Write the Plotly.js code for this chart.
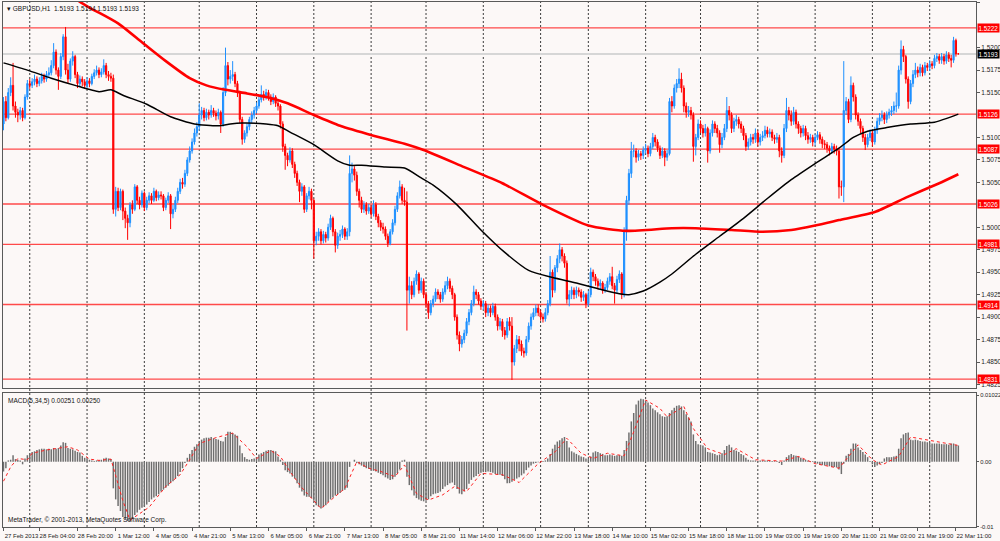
<!DOCTYPE html>
<html>
<head>
<meta charset="utf-8">
<script src="https://cdn.plot.ly/plotly-3.0.1.min.js"></script>
<style>
html,body{margin:0;padding:0;background:#fcf8f7;overflow:hidden;}
#chart{width:1000px;height:541px;}
</style>
</head>
<body>
<div id="chart"></div>
<script>
// ---------- DATA (prices in pips: 15193 = 1.5193) ----------
const symbolTitle = 'GBPUSD,H1';
const firstOpenPips = 15115;
const closePips = [
15140,15122,15150,15158,15135,15128,15125,15130,15122,15145,
15160,15158,15162,15165,15160,15163,15168,15165,15170,15172,
15180,15195,15175,15168,15190,15212,15175,15165,15185,15190,
15170,15160,15165,15162,15158,15163,15160,15168,15172,15175,
15170,15173,15180,15170,15168,15166,15020,15040,15022,15040,
15018,15010,15005,15025,15020,15045,15030,15025,15038,15022,
15030,15035,15030,15040,15033,15036,15035,15022,15030,15035,
15015,15020,15030,15040,15050,15048,15060,15075,15085,15095,
15105,15112,15125,15130,15122,15128,15125,15130,15127,15124,
15128,15115,15150,15180,15165,15168,15170,15160,15150,15120,
15098,15105,15112,15120,15125,15130,15135,15142,15148,15145,
15150,15145,15140,15145,15138,15135,15115,15090,15080,15075,
15085,15070,15060,15050,15040,15045,15020,15035,15040,15030,
14985,14990,14995,14985,14992,14988,15000,15010,14995,14980,
14990,14992,14998,14990,14995,15060,15065,15058,15040,15030,
15020,15025,15018,15022,15015,15025,15012,15005,15000,14998,
14990,14982,14995,15005,15020,15035,15045,15030,15028,14930,
14935,14925,14940,14948,14930,14940,14925,14915,14905,14915,
14920,14928,14925,14920,14928,14935,14940,14932,14925,14900,
14880,14870,14875,14882,14895,14905,14915,14928,14925,14918,
14912,14915,14905,14910,14905,14912,14900,14890,14895,14885,
14880,14895,14890,14850,14865,14875,14870,14862,14860,14875,
14890,14900,14905,14910,14905,14900,14898,14905,14915,14950,
14930,14955,14965,14975,14968,14960,14920,14925,14930,14925,
14930,14928,14922,14925,14915,14925,14950,14945,14940,14935,
14938,14930,14933,14940,14945,14935,14930,14942,14948,14925,
14995,15030,15060,15085,15085,15078,15082,15080,15086,15088,
15082,15090,15100,15095,15088,15080,15085,15078,15082,15140,
15135,15155,15160,15165,15155,15135,15128,15130,15125,15090,
15100,15115,15110,15105,15110,15085,15105,15115,15110,15105,
15092,15100,15110,15130,15125,15110,15118,15120,15115,15110,
15102,15090,15095,15100,15098,15105,15095,15100,15102,15108,
15104,15106,15100,15098,15100,15085,15080,15110,15130,15125,
15118,15128,15115,15110,15105,15110,15102,15098,15100,15095,
15100,15103,15098,15093,15092,15088,15085,15090,15087,15085,
15045,15045,15130,15140,15120,15158,15145,15125,15118,15110,
15100,15092,15100,15105,15095,15108,15118,15122,15125,15120,
15125,15128,15130,15135,15135,15175,15198,15190,15165,15140,
15160,15170,15175,15172,15178,15172,15180,15178,15182,15180,
15188,15190,15186,15190,15185,15192,15188,15186,15208,15193,
15193];
const highPips = [
15145,15146,15155,15167,15183,15140,15132,15134,15133,15148,
15164,15165,15166,15170,15168,15167,15172,15171,15174,15178,
15186,15205,15198,15178,15194,15215,15223,15182,15188,15196,
15192,15173,15169,15168,15165,15167,15166,15171,15176,15180,
15178,15177,15187,15183,15174,15172,15170,15045,15044,15043,
15042,15022,15014,15028,15030,15048,15047,15034,15041,15040,
15034,15039,15038,15044,15042,15040,15040,15037,15033,15039,
15037,15025,15034,15044,15054,15055,15064,15078,15090,15099,
15110,15117,15138,15134,15133,15132,15131,15136,15133,15130,
15132,15130,15156,15200,15184,15175,15185,15173,15163,15152,
15123,15108,15116,15123,15129,15134,15139,15146,15158,15152,
15154,15153,15148,15149,15147,15141,15137,15118,15093,15083,
15089,15088,15073,15063,15053,15049,15047,15038,15045,15043,
15032,14995,14999,14998,14996,14995,15004,15014,15012,14998,
14994,14997,15002,15000,14999,15080,15072,15068,15062,15043,
15034,15029,15028,15026,15025,15030,15028,15015,15008,15005,
15001,14993,14998,15009,15024,15039,15052,15048,15044,15040,
14945,14940,14944,14952,14950,14944,14943,14928,14918,14919,
14924,14932,14931,14928,14932,14940,14945,14943,14935,14927,
14903,14884,14879,14886,14899,14909,14919,14935,14931,14928,
14921,14919,14918,14914,14913,14916,14915,14903,14899,14898,
14889,14899,14900,14900,14869,14880,14879,14874,14866,14879,
14894,14904,14910,14914,14914,14908,14904,14910,14919,14968,
14953,14958,14969,14982,14978,14971,14963,14930,14934,14933,
14934,14933,14931,14929,14927,14929,14955,14953,14948,14943,
14942,14940,14937,14944,14949,14956,14938,14946,14952,14950,
15000,15035,15065,15095,15092,15088,15086,15085,15090,15093,
15091,15094,15105,15103,15098,15091,15089,15088,15086,15144,
15146,15159,15165,15177,15172,15158,15139,15135,15134,15128,
15104,15120,15119,15114,15115,15112,15109,15119,15118,15114,
15108,15105,15115,15145,15135,15128,15122,15125,15123,15118,
15113,15105,15099,15104,15104,15110,15108,15104,15107,15113,
15112,15110,15109,15103,15105,15103,15089,15115,15144,15134,
15130,15134,15131,15118,15113,15114,15113,15106,15104,15103,
15104,15107,15106,15101,15097,15095,15091,15094,15093,15091,
15088,15052,15185,15145,15143,15168,15161,15148,15128,15121,
15113,15104,15104,15109,15108,15112,15122,15127,15130,15128,
15129,15132,15135,15140,15150,15180,15208,15202,15192,15168,
15164,15175,15183,15179,15182,15181,15184,15183,15186,15185,
15192,15194,15193,15194,15193,15196,15195,15192,15212,15210,
15194];
const lowPips = [
15108,15118,15120,15146,15130,15122,15117,15120,15118,15120,
15142,15154,15155,15158,15156,15157,15160,15161,15162,15166,
15169,15177,15170,15153,15165,15186,15170,15160,15162,15180,
15166,15155,15156,15157,15154,15155,15156,15158,15165,15169,
15166,15167,15170,15166,15163,15162,15015,15012,15018,15019,
15008,14999,14986,15000,15015,15018,15026,15020,15022,15018,
15019,15027,15026,15028,15029,15030,15031,15018,15019,15027,
14998,15010,15017,15027,15037,15043,15045,15057,15072,15082,
15092,15101,15108,15120,15118,15119,15120,15122,15123,15119,
15120,15105,15112,15146,15158,15160,15163,15156,15145,15116,
15092,15094,15101,15108,15116,15121,15127,15132,15139,15141,
15142,15141,15136,15137,15134,15130,15110,15084,15064,15068,
15072,15066,15055,15046,15028,15035,15016,15017,15031,15020,
14965,14980,14985,14981,14982,14983,14985,14997,14990,14972,
14976,14985,14988,14986,14986,14990,15050,15052,15035,15022,
15016,15016,15014,15015,15011,15012,15008,15000,14996,14993,
14986,14978,14980,14992,15002,15017,15032,15026,15024,14885,
14915,14920,14922,14936,14926,14927,14921,14910,14898,14902,
14911,14917,14920,14916,14917,14925,14931,14928,14920,14896,
14875,14862,14866,14871,14879,14891,14902,14912,14920,14914,
14908,14908,14900,14901,14900,14902,14896,14885,14886,14878,
14875,14877,14885,14830,14846,14860,14862,14857,14855,14857,
14872,14886,14897,14901,14901,14896,14894,14895,14902,14912,
14922,14927,14950,14960,14962,14955,14915,14912,14920,14920,
14921,14923,14917,14918,14910,14912,14922,14940,14935,14931,
14931,14926,14927,14930,14936,14931,14915,14927,14938,14920,
14922,14985,15025,15055,15078,15072,15074,15075,15076,15082,
15078,15079,15087,15090,15084,15076,15077,15068,15074,15080,
15128,15132,15150,15155,15150,15128,15122,15123,15120,15073,
15080,15097,15105,15100,15101,15072,15082,15101,15105,15100,
15083,15088,15097,15106,15119,15105,15106,15113,15110,15105,
15097,15085,15086,15091,15093,15094,15090,15091,15096,15099,
15100,15100,15096,15093,15094,15078,15072,15077,15106,15119,
15113,15114,15110,15104,15100,15101,15097,15093,15094,15090,
15091,15097,15093,15088,15087,15083,15080,15082,15082,15080,
15032,15035,15028,15125,15116,15117,15140,15120,15113,15105,
15095,15086,15089,15096,15090,15092,15104,15114,15118,15115,
15116,15121,15124,15126,15128,15132,15170,15184,15160,15132,
15137,15156,15166,15167,15168,15168,15169,15174,15174,15176,
15177,15184,15182,15182,15181,15182,15184,15178,15183,15190,
15193];

// Moving averages (bar index, pips)
const blackMaBars = [0,10,20,30,40,45,50,60,70,80,90,95,100,110,115,120,130,140,145,150,160,168,175,180,190,200,210,220,230,240,250,258,262,268,275,280,290,300,310,320,330,340,350,356,362,370,380,390,400];
const blackMaPips = [15183,15175,15166,15158,15151,15153,15147,15137,15123,15115,15113,15115,15116,15115,15113,15106,15092,15074,15069,15069,15067,15066,15055,15047,15025,14997,14972,14952,14944,14938,14931,14926,14925,14929,14939,14948,14970,14990,15010,15032,15053,15071,15088,15100,15107,15111,15115,15117,15126];
const redMaBars = [28,30,37,40,48,58,68,78,85,93,102,110,119,130,141,155,168,176,193,209,226,245,261,280,290,305,318,330,340,350,365,378,392,400];
const redMaPips = [15262,15255,15243,15239,15227,15206,15185,15166,15158,15153,15149,15145,15138,15125,15113,15102,15093,15086,15067,15049,15025,15002,14996,14999,14999,14997,14995,14997,15002,15008,15017,15033,15049,15059];

// MACD(5,34,5) histogram, units of 0.0001
const macdMain = [
-15,-10,2,3,10,4,3,2,-4,5,
10,13,15,16,18,19,20,20,19,20,
19,21,20,21,25,30,29,21,20,19,
17,15,14,9,6,4,3,2,1,2,
2,3,5,6,5,4,-41,-58,-68,-76,
-85,-88,-91,-92,-88,-82,-78,-74,-71,-69,
-66,-62,-58,-55,-53,-50,-46,-43,-40,-37,
-33,-30,-26,-22,-16,-10,-2,6,12,18,
23,27,31,34,36,37,37,38,36,35,
34,32,31,38,46,46,44,42,40,25,
13,7,4,3,4,5,7,11,13,15,
17,18,18,17,16,8,3,-5,-13,-16,
-18,-23,-26,-33,-40,-46,-52,-54,-54,-56,
-60,-67,-69,-72,-70,-67,-62,-58,-55,-52,
-50,-48,-45,-43,-40,-8,0,3,-2,-4,
-6,-8,-10,-11,-12,-14,-15,-17,-19,-21,
-24,-26,-28,-27,-23,-18,-12,2,3,-23,
-36,-44,-52,-56,-58,-60,-61,-60,-58,-53,
-50,-49,-48,-46,-42,-38,-36,-33,-32,-36,
-42,-49,-50,-46,-42,-34,-28,-24,-22,-19,
-17,-16,-16,-15,-16,-17,-19,-20,-20,-22,
-27,-33,-33,-31,-28,-26,-24,-21,-18,-13,
-9,-6,-3,-2,-1,0,1,2,5,12,
20,26,31,33,36,38,32,22,16,14,
12,10,8,7,5,4,8,14,16,15,
13,12,10,10,11,10,9,10,10,9,
18,32,45,62,75,88,94,97,96,94,
91,87,82,79,76,73,70,69,70,75,
79,83,86,87,85,79,73,68,62,42,
32,27,26,25,22,15,14,13,12,10,
11,13,18,24,26,22,18,17,15,12,
10,6,3,2,2,2,1,2,2,2,
2,1,1,1,1,-2,-5,2,7,10,
12,10,9,8,6,4,3,2,1,1,
-2,-3,-5,-5,-6,-6,-7,-8,-8,-9,
-12,-19,-3,9,12,20,28,28,22,18,
15,11,7,1,-4,-8,-6,-4,-2,5,
7,7,7,8,9,20,36,42,44,45,
34,33,34,33,32,31,31,30,29,28,
28,28,28,27,27,27,26,28,28,26,
25];
const macdSignalBars = [0,3,6,10,12,18,27,31,36,40,45,50,53,57,61,68,74,78,82,89,96,102,106,112,116,120,125,133,138,143,148,153,158,164,168,173,178,184,189,194,200,209,216,224,231,236,242,247,253,260,264,269,275,278,285,289,295,302,307,315,326,333,340,350,358,364,368,375,380,388,400];
const macdSignal = [-30,-8,5,3,13,18,23,18,4,2,4,-60,-90,-80,-70,-38,-20,3,28,37,44,23,5,17,8,-15,-40,-72,-56,-41,0,-10,-15,-23,-5,-49,-59,-51,-38,-46,-18,-20,-32,-3,15,36,13,5,13,9,46,95,82,69,85,51,20,11,20,3,1,8,-3,-10,26,3,-5,8,38,33,25];

// levels and axis labels
const levelPrices = [1.5222,1.5126,1.5087,1.5026,1.4981,1.4914,1.4831];
const bidPrice = 1.5193;
const priceTicks = [1.5250,1.5200,1.5175,1.5150,1.5100,1.5075,1.5050,1.5000,1.4975,1.4950,1.4925,1.4900,1.4875,1.4850,1.4825];
const macdTicks = [0.01022,0,-0.01];
const macdTickText = ['0.01022','0.00','-0.01'];
const timeTickBars = [0,15,31,47,63,79,95,111,127,143,159,175,191,207,223,239,255,271,287,303,319,335,351,367,383,399];
const timeTickText = ['27 Feb 2013','28 Feb 04:00','28 Feb 20:00','1 Mar 12:00','4 Mar 05:00','4 Mar 21:00','5 Mar 13:00','6 Mar 05:00','6 Mar 21:00','7 Mar 13:00','8 Mar 05:00','8 Mar 21:00','11 Mar 14:00','12 Mar 06:00','12 Mar 22:00','13 Mar 18:00','14 Mar 10:00','15 Mar 02:00','15 Mar 18:00','18 Mar 11:00','19 Mar 03:00','19 Mar 19:00','20 Mar 11:00','21 Mar 03:00','21 Mar 19:00','22 Mar 11:00'];
const daySeparatorBars = [11,35,59,82,106,130,154,177,201,225,245,269,292,316,340,364,388];

// ---------- BUILD ----------
const toPrice = p => p / 10000;
const n = closePips.length;
const barIdx = closePips.map((_, i) => i);
// each hourly bar opens at the previous bar's close
const openPips = [firstOpenPips].concat(closePips.slice(0, n - 1));

const FONT = 'Liberation Sans, Arial, sans-serif';
const BG = '#fcf8f7';
const xRange = [-0.21, 407.4];

const traces = [
  {
    type: 'candlestick', x: barIdx,
    open: openPips.map(toPrice), high: highPips.map(toPrice),
    low: lowPips.map(toPrice), close: closePips.map(toPrice),
    xaxis: 'x', yaxis: 'y', whiskerwidth: 0, hoverinfo: 'skip',
    increasing: {line: {color: '#1E90FF', width: 1}, fillcolor: '#1E90FF'},
    decreasing: {line: {color: '#FF0000', width: 1}, fillcolor: '#FF0000'}
  },
  {
    type: 'scatter', mode: 'lines', x: redMaBars, y: redMaPips.map(toPrice),
    xaxis: 'x', yaxis: 'y', line: {color: '#FF0000', width: 2.6, shape: 'spline', smoothing: 0.6},
    hoverinfo: 'skip'
  },
  {
    type: 'scatter', mode: 'lines', x: blackMaBars, y: blackMaPips.map(toPrice),
    xaxis: 'x', yaxis: 'y', line: {color: '#000000', width: 1.5, shape: 'spline', smoothing: 0.6},
    hoverinfo: 'skip'
  },
  {
    type: 'bar', x: barIdx, y: macdMain.map(v => v / 10000),
    xaxis: 'x2', yaxis: 'y2', width: 0.62,
    marker: {color: '#6e6e6e', line: {width: 0}}, hoverinfo: 'skip'
  },
  {
    type: 'scatter', mode: 'lines', x: macdSignalBars, y: macdSignal.map(v => v / 10000),
    xaxis: 'x2', yaxis: 'y2', line: {color: '#FF2020', width: 1, dash: 'dot'},
    hoverinfo: 'skip'
  }
];

const shapes = [];
daySeparatorBars.forEach(b => shapes.push({
  type: 'line', xref: 'x', yref: 'paper', x0: b, x1: b, y0: 0, y1: 1,
  line: {color: '#3c3c3c', width: 1, dash: '2px,2px'}, layer: 'below'
}));
shapes.push({
  type: 'line', xref: 'paper', yref: 'y', x0: 0, x1: 1, y0: bidPrice, y1: bidPrice,
  line: {color: '#d6d6d6', width: 2}, layer: 'below'
});
levelPrices.forEach(p => shapes.push({
  type: 'line', xref: 'paper', yref: 'y', x0: 0, x1: 1, y0: p, y1: p,
  line: {color: '#FF4A4A', width: 1.4}, layer: 'below'
}));

const annotations = [];
levelPrices.forEach(p => annotations.push({
  xref: 'paper', yref: 'y', x: 1, y: p, xanchor: 'left', yanchor: 'middle', xshift: 1,
  text: p.toFixed(4), showarrow: false, bgcolor: '#FF0000', borderpad: 0.5,
  font: {family: FONT, size: 6.3, color: '#ffffff'}
}));
annotations.push({
  xref: 'paper', yref: 'y', x: 1, y: bidPrice, xanchor: 'left', yanchor: 'middle', xshift: 1,
  text: bidPrice.toFixed(4), showarrow: false, bgcolor: '#000000', borderpad: 0.5,
  font: {family: FONT, size: 6.3, color: '#ffffff'}
});
const lastI = n - 1;
annotations.push({
  xref: 'paper', yref: 'paper', x: 0, y: 1, xanchor: 'left', yanchor: 'top', xshift: 2, yshift: -1,
  text: '\u25BE ' + symbolTitle + '  ' + [openPips[lastI], highPips[lastI], lowPips[lastI], closePips[lastI]].map(v => toPrice(v).toFixed(4)).join(' '),
  showarrow: false, font: {family: FONT, size: 6.5, color: '#111'}
});
annotations.push({
  xref: 'paper', yref: 'paper', x: 0, y: 0.2552, xanchor: 'left', yanchor: 'top', xshift: 3, yshift: -2,
  text: 'MACD(5,34,5) 0.00251 0.00250', showarrow: false,
  font: {family: FONT, size: 6.5, color: '#111'}
});
annotations.push({
  xref: 'paper', yref: 'paper', x: 0, y: 0, xanchor: 'left', yanchor: 'bottom', xshift: 3, yshift: 1,
  text: 'MetaTrader, \u00A9 2001-2013, MetaQuotes Software Corp.', showarrow: false,
  font: {family: FONT, size: 6.5, color: '#111'}
});

const axisLine = {showline: true, mirror: true, linecolor: '#5a5a5a', linewidth: 1, zeroline: false, showgrid: false, fixedrange: true};

const layout = {
  width: 1000, height: 541,
  margin: {l: 3, r: 24, t: 2, b: 14, pad: 0},
  paper_bgcolor: BG, plot_bgcolor: BG,
  showlegend: false, hovermode: false, dragmode: false,
  font: {family: FONT, size: 6.5, color: '#222'},
  xaxis: Object.assign({}, axisLine, {
    domain: [0, 1], anchor: 'y', range: xRange, showticklabels: false, ticks: '',
    rangeslider: {visible: false}
  }),
  yaxis: Object.assign({}, axisLine, {
    domain: [0.2648, 1], anchor: 'x', side: 'right', range: [1.48211, 1.52508],
    tickmode: 'array', tickvals: priceTicks, tickformat: '.4f',
    ticks: 'outside', ticklen: 3, tickcolor: '#5a5a5a',
    tickfont: {family: FONT, size: 6.5, color: '#222'}
  }),
  xaxis2: Object.assign({}, axisLine, {
    domain: [0, 1], anchor: 'y2', range: xRange,
    tickmode: 'array', tickvals: timeTickBars, ticktext: timeTickText,
    tickangle: 0, ticklabelstandoff: 0,
    ticks: 'outside', ticklen: 3, tickcolor: '#5a5a5a', ticklabelshift: 18,
    tickfont: {family: FONT, size: 6, color: '#222'}
  }),
  yaxis2: Object.assign({}, axisLine, {
    domain: [0, 0.2552], anchor: 'x2', side: 'right', range: [-0.01005, 0.01057],
    tickmode: 'array', tickvals: macdTicks, ticktext: macdTickText,
    ticks: 'outside', ticklen: 2, tickcolor: '#5a5a5a',
    tickfont: {family: FONT, size: 5.8, color: '#222'}
  }),
  shapes: shapes,
  annotations: annotations,
  bargap: 0.3
};

Plotly.newPlot('chart', traces, layout, {staticPlot: true, displayModeBar: false});
</script>
</body>
</html>
